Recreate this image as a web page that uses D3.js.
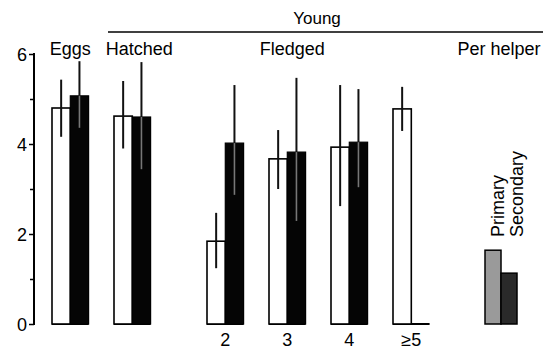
<!DOCTYPE html>
<html><head><meta charset="utf-8">
<script src="https://cdn.jsdelivr.net/npm/d3@7/dist/d3.min.js"></script>
<style>body{margin:0;background:#fff}svg{display:block}text{font-family:"Liberation Sans",Arial,sans-serif;fill:#000}</style>
</head><body><svg id="c" width="552" height="353"></svg>
<script>
const categories = ["Eggs", "Hatched", "2", "3", "4", "≥5"];
const categoryType = ["Eggs", "Hatched", "Fledged", "Fledged", "Fledged", "Fledged"];
const whiteMean = [4.80, 4.62, 1.84, 3.67, 3.93, 4.78];
const whiteLow  = [4.16, 3.90, 1.24, 3.00, 2.62, 4.29];
const whiteHigh = [5.43, 5.40, 2.47, 4.31, 5.31, 5.27];
const blackMean = [5.07, 4.60, 4.02, 3.82, 4.04, null];
const blackLow  = [4.36, 3.44, 2.87, 2.29, 3.04, null];
const blackHigh = [5.84, 5.82, 5.31, 5.47, 5.22, null];
const helperLabels = ["Primary", "Secondary"];
const helperValues = [1.64, 1.13];
const majorTicks = [0, 2, 4, 6];
const minorTicks = [1, 3, 5];

const svg = d3.select("#c");
const y = d3.scaleLinear().domain([0, 6]).range([324, 54]);

// slot index: half-step gap when category type changes
const slots = [];
let s = 0;
categoryType.forEach((t, i) => {
  if (i > 0) s += (t === "Fledged" && categoryType[i-1] === "Fledged") ? 1 : (i === 1 ? 1 : 1.5);
  slots.push(s);
});
const helperSlot = s + 1.5;
const x = d3.scaleLinear().domain([0, 7]).range([52, 486]);
const bw = 18.3;

// axis
const ax = svg.append("g").attr("transform", "translate(34,0)");
ax.call(d3.axisLeft(y).tickValues(majorTicks).tickFormat(d3.format("d")).tickSize(5).tickPadding(2));
ax.append("g").call(d3.axisLeft(y).tickValues(minorTicks).tickFormat("").tickSize(4));
ax.selectAll(".domain").remove();
ax.selectAll("line").attr("stroke", "#000").attr("stroke-width", 1.5);
ax.append("line").attr("x1", 0).attr("x2", 0).attr("y1", y(0) + 1).attr("y2", y(6) - 1).attr("stroke", "#000").attr("stroke-width", 2);
ax.selectAll("text").style("font-size", "18px").style("font-family", '"Liberation Sans",Arial,sans-serif').attr("dy", "0.36em");

const g = svg.append("g");
categories.forEach((c, i) => {
  const x0 = x(slots[i]);
  g.append("line").attr("x1", x0).attr("x2", x0 + 2 * bw).attr("y1", y(0)).attr("y2", y(0)).attr("stroke", "#000").attr("stroke-width", 2);
  g.append("rect").attr("x", x0).attr("y", y(whiteMean[i])).attr("width", bw).attr("height", y(0) - y(whiteMean[i]))
    .attr("fill", "#fff").attr("stroke", "#000").attr("stroke-width", 1.6);
  const cx = x0 + bw / 2;
  g.append("line").attr("x1", cx).attr("x2", cx).attr("y1", y(whiteHigh[i])).attr("y2", y(whiteLow[i])).attr("stroke", "#111").attr("stroke-width", 2);
  if (blackMean[i] != null) {
    g.append("rect").attr("x", x0 + bw).attr("y", y(blackMean[i])).attr("width", bw).attr("height", y(0) - y(blackMean[i]))
      .attr("fill", "#050505").attr("stroke", "#000").attr("stroke-width", 1.2);
    const bx = x0 + bw * 1.5;
    g.append("line").attr("x1", bx).attr("x2", bx).attr("y1", y(blackHigh[i])).attr("y2", y(blackMean[i])).attr("stroke", "#111").attr("stroke-width", 2);
    g.append("line").attr("x1", bx).attr("x2", bx).attr("y1", y(blackMean[i])).attr("y2", y(blackLow[i])).attr("stroke", "#777").attr("stroke-width", 1.6);
  }
  if (categoryType[i] === "Fledged") {
    g.append("text").attr("x", x0 + bw).attr("y", 346).attr("text-anchor", "middle").style("font-size", "18px").text(c);
  }
});

// helper bars
const hx = x(helperSlot) - 1;
const hw = 16;
const hFill = ["#9a9a9a", "#2a2a2a"];
helperValues.forEach((v, i) => {
  g.append("rect").attr("x", hx + i * hw).attr("y", y(v)).attr("width", hw).attr("height", y(0) - y(v))
    .attr("fill", hFill[i]).attr("stroke", "#000").attr("stroke-width", 1.5);
  g.append("text").attr("transform", `translate(${hx + 19 + i * 19},237) rotate(-90)`)
    .attr("text-anchor", "start").style("font-size", "18px").text(helperLabels[i]);
});

// headers
const hdr = [
  ["Eggs", (x(slots[0]) + bw), 0],
  ["Hatched", (x(slots[1]) + bw), 7],
  ["Fledged", (x(slots[2]) + x(slots[4]) + 2 * bw) / 2, 5],
  ["Per helper", hx + hw, -2]
];
hdr.forEach(h => {
  svg.append("text").attr("x", h[1] + h[2]).attr("y", 55).attr("text-anchor", "middle").style("font-size", "18px").text(h[0]);
});
svg.append("line").attr("x1", 108).attr("x2", 543).attr("y1", 32).attr("y2", 32).attr("stroke", "#000").attr("stroke-width", 1.5);
svg.append("text").attr("x", 317).attr("y", 24).attr("text-anchor", "middle").style("font-size", "17px").text("Young");
</script></body></html>
